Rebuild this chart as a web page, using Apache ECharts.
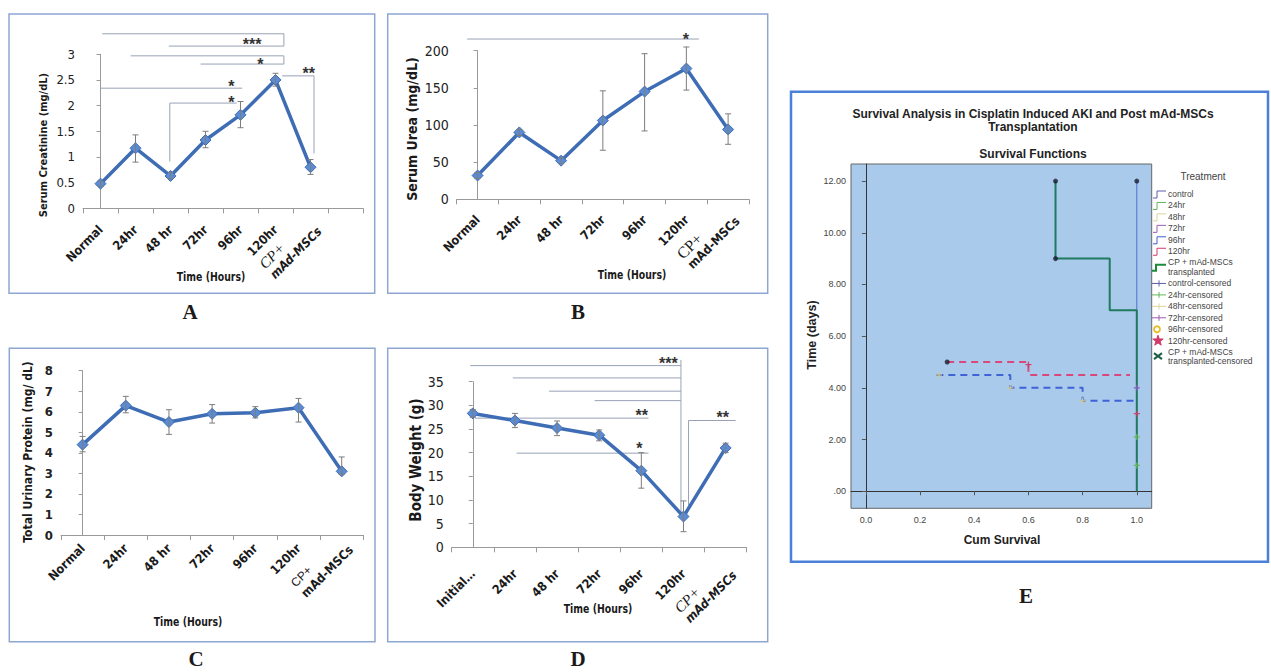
<!DOCTYPE html>
<html><head><meta charset="utf-8">
<script src="https://cdn.jsdelivr.net/npm/echarts@6.0.0/dist/echarts.min.js"></script>
<style>html,body{margin:0;padding:0;background:#fff}#c{width:1271px;height:672px}</style>
</head><body><div id="c"></div>
<script>
// ================= DATA =================
// Panel A – serum creatinine
const catsA = ['Normal','24hr','48 hr','72hr','96hr','120hr','CP+\nmAd-MSCs',''];
const yTicksA = [0,0.5,1,1.5,2,2.5,3];
const creatinine     = [0.48,1.17,0.63,1.33,1.82,2.50,0.80];
const creatinineLow  = [0.43,0.90,0.58,1.18,1.57,2.38,0.66];
const creatinineHigh = [0.53,1.43,0.70,1.50,2.08,2.63,0.95];
const bracketsA = [
  [[0.05,3.40],[5.24,3.40],[5.24,3.16],[1.95,3.16]],
  [[0.86,2.97],[5.24,2.97],[5.24,2.81],[2.86,2.81]],
  [[0.00,2.34],[4.05,2.34]],
  [[1.98,0.91],[1.98,2.05],[3.89,2.05]],
  [[5.19,2.58],[6.10,2.58],[6.10,1.07]]
];
const starsA = [[4.33,3.26,'***'],[4.57,2.87,'*'],[3.74,2.45,'*'],[3.74,2.13,'*'],[5.95,2.70,'**']];

// Panel B – serum urea
const catsB = ['Normal','24hr','48 hr','72hr','96hr','120hr','CP+\nmAd-MSCs'];
const yTicksB = [0,50,100,150,200];
const urea     = [32,90,52,106,145,176,94];
const ureaLow  = [28,86,48,66,92,147,74];
const ureaHigh = [36,94,56,146,196,205,115];
const bracketsB = [[[-0.25,215.7],[5.30,215.7]]];
const starsB = [[4.99,221,'*']];

// Panel C – total urinary protein
const catsC = ['Normal','24hr','48 hr','72hr','96hr','120hr','CP+\nmAd-MSCs'];
const yTicksC = [0,1,2,3,4,5,6,7,8];
const protein     = [4.40,6.30,5.50,5.90,5.95,6.20,3.10];
const proteinLow  = [4.05,5.95,4.90,5.45,5.70,5.50,2.95];
const proteinHigh = [4.80,6.75,6.10,6.35,6.25,6.65,3.80];
const bracketsC = [];
const starsC = [];

// Panel D – body weight
const catsD = ['Initial…','24hr','48 hr','72hr','96hr','120hr','CP+\nmAd-MSCs'];
const yTicksD = [0,5,10,15,20,25,30,35];
const weight     = [28.3,26.8,25.2,23.7,16.2,6.5,21.0];
const weightLow  = [27.5,25.3,23.6,22.5,12.5,3.3,20.0];
const weightHigh = [29.1,28.3,26.7,24.8,20.0,9.8,22.0];
const bracketsD = [
  [[-0.06,38.4],[4.94,38.4]],
  [[0.95,35.8],[4.94,35.8]],
  [[1.81,33.0],[4.94,33.0]],
  [[2.89,31.0],[4.94,31.0]],
  [[4.94,39.6],[4.94,7.5]],
  [[0.05,27.3],[4.17,27.3]],
  [[1.04,19.9],[4.17,19.9]],
  [[5.12,8.9],[5.12,26.8],[6.24,26.8]]
];
const starsD = [[4.64,39.6,'***'],[4.01,28.7,'**'],[3.95,21.8,'*'],[5.93,28.3,'**']];

// Panel E – survival
const survTicksX = [0,0.2,0.4,0.6,0.8,1.0];
const survTicksY = [0,2,4,6,8,10,12];
const survControl = [[1.0,12],[1.0,0]];
const survCP      = [[0.7,12],[0.7,9],[0.9,9],[0.9,7],[1.0,7],[1.0,0]];
const surv120     = [[0.3,5],[0.6,5],[0.6,4.5],[0.975,4.5]];
const surv96      = [[0.26,4.5],[0.533,4.5],[0.533,4.0],[0.8,4.0],[0.8,3.5],[1.0,3.5]];
const survEvents  = [[0.3,5],[0.7,12],[0.7,9],[1.0,12]];
const survCensor  = [[1.0,4.0],[1.0,3.0],[1.0,1.0],[1.0,2.1],[0.27,4.5],[0.533,4.0],[0.8,3.5],[0.6,4.9]];
const survLegend = ['control','24hr','48hr','72hr','96hr','120hr','CP + mAd-MSCs\ntransplanted',
  'control-censored','24hr-censored','48hr-censored','72hr-censored','96hr-censored','120hr-censored',
  'CP + mAd-MSCs\ntransplanted-censored'];

// ================= STYLE / LAYOUT =================
const NARROW = "'Liberation Sans Narrow','DejaVu Sans Condensed','Liberation Sans',Arial,sans-serif";
const SANS = "'Liberation Sans',Arial,sans-serif";
const SERIF = "'Liberation Serif','Times New Roman',serif";
const censorColors = ['#8A5CC0','#D23A6A','#62B858','#62B858','#CFC68A','#CFC68A','#CFC68A','#D23A6A'];
const legendColors = ['#5B5EA6','#62B858','#DCD59A','#9B5CB4','#3F5ECF','#D23A6A','#1E8A3C',
  '#5B5EA6','#62B858','#DCD59A','#9B5CB4','#E6BE2A','#D23A6A','#1F5F4A'];
const legendKinds = ['step','step','step','step','step','step','stepBig','plus','plus','plus','plus','circle','star','x'];

const panels = [
  {cats:catsA, vals:creatinine, lo:creatinineLow, hi:creatinineHigh, br:bracketsA, st:starsA, ticks:yTicksA,
   grid:{left:83, top:54.3, width:280, height:154}, yFont:{fontSize:13, fontWeight:'normal'}, margin:19, cpW:62,
   cp:{fontFamily:SERIF, fontStyle:'italic', fontSize:15, fontWeight:'normal'}, mItalic:'italic'},
  {cats:catsB, vals:urea, lo:ureaLow, hi:ureaHigh, br:bracketsB, st:starsB, ticks:yTicksB,
   grid:{left:456.7, top:50.7, width:292.3, height:148.6}, yFont:{fontSize:14, fontWeight:'normal'}, margin:18, cpW:62,
   cp:{fontFamily:SERIF, fontStyle:'normal', fontSize:16, fontWeight:'normal'}, mItalic:'normal'},
  {cats:catsC, vals:protein, lo:proteinLow, hi:proteinHigh, br:bracketsC, st:starsC, ticks:yTicksC,
   grid:{left:61, top:370.7, width:302.3, height:164.3}, yFont:{fontSize:13, fontWeight:'bold'}, margin:11, cpW:62,
   cp:{fontFamily:SANS, fontStyle:'normal', fontSize:12, fontWeight:'normal'}, mItalic:'normal'},
  {cats:catsD, vals:weight, lo:weightLow, hi:weightHigh, br:bracketsD, st:starsD, ticks:yTicksD,
   grid:{left:451.7, top:381.7, width:295, height:165.6}, yFont:{fontSize:14, fontWeight:'normal'}, margin:24, cpW:62,
   cp:{fontFamily:SERIF, fontStyle:'italic', fontSize:15, fontWeight:'normal'}, mItalic:'italic'}
];

const option = {animation:false, backgroundColor:'#fff', grid:[], xAxis:[], yAxis:[], series:[], graphic:[]};
const NP = panels.length;

panels.forEach((p,i)=>{
  option.grid.push(p.grid);
  option.xAxis.push({
    type:'category', gridIndex:i, data:p.cats, boundaryGap:true,
    axisLine:{lineStyle:{color:'#9a9a9a', width:1}},
    axisTick:{show:true, length:5, lineStyle:{color:'#9a9a9a'}},
    axisLabel:{interval:0, rotate:45, margin:p.margin, color:'#1a1a1a', fontFamily:NARROW, fontWeight:'bold', fontSize:12.5,
      formatter:v=>{const s=v.split('\n'); return s.length>1 ? '{cp|'+s[0]+'}\n{m|'+s[1]+'}' : v;},
      rich:{cp:Object.assign({color:'#1a1a1a', align:'left', width:p.cpW, lineHeight:15}, p.cp),
            m:{color:'#1a1a1a', fontFamily:NARROW, fontWeight:'bold', fontStyle:p.mItalic, fontSize:12.5, align:'left', width:p.cpW, lineHeight:14}}}
  });
});
panels.forEach((p,i)=>{
  option.xAxis.push({type:'value', gridIndex:i, min:-0.5, max:p.cats.length-0.5, show:false});
});
panels.forEach((p,i)=>{
  const t = p.ticks;
  option.yAxis.push({
    type:'value', gridIndex:i, min:t[0], max:t[t.length-1], interval:t[1]-t[0],
    axisLine:{show:true, lineStyle:{color:'#9a9a9a'}},
    axisTick:{show:true, length:4, lineStyle:{color:'#9a9a9a'}},
    splitLine:{show:false},
    axisLabel:Object.assign({color:'#222', fontFamily:NARROW, margin:8}, p.yFont)
  });
});

panels.forEach((p,i)=>{
  const xa = NP+i, ya = i;
  option.series.push({
    type:'custom', xAxisIndex:xa, yAxisIndex:ya, z:2, silent:true,
    data:p.br.map(b=>[b[0][0], b[0][1]]),
    renderItem:(params, api)=>{
      const pts = p.br[params.dataIndex].map(q=>api.coord(q));
      return {type:'polyline', shape:{points:pts}, style:{stroke:'#98a2b6', lineWidth:1, fill:null}};
    }
  });
  option.series.push({
    type:'line', xAxisIndex:xa, yAxisIndex:ya, z:3,
    data:p.vals.map((v,k)=>[k,v]),
    symbol:'diamond', symbolSize:11,
    lineStyle:{color:'#3E6DB5', width:3.5},
    itemStyle:{color:'#5B8BD2', borderColor:'#3E6DB5', borderWidth:1}
  });
  option.series.push({
    type:'custom', xAxisIndex:xa, yAxisIndex:ya, z:4, silent:true,
    data:p.vals.map((v,k)=>[k, p.lo[k], p.hi[k]]),
    encode:{x:0, y:[1,2]},
    renderItem:(params, api)=>{
      const x = api.value(0);
      const a = api.coord([x, api.value(1)]), b = api.coord([x, api.value(2)]);
      const w = 3, st = {stroke:'#7d7d7d', lineWidth:1};
      return {type:'group', children:[
        {type:'line', shape:{x1:a[0],y1:a[1],x2:b[0],y2:b[1]}, style:st},
        {type:'line', shape:{x1:a[0]-w,y1:a[1],x2:a[0]+w,y2:a[1]}, style:st},
        {type:'line', shape:{x1:b[0]-w,y1:b[1],x2:b[0]+w,y2:b[1]}, style:st}
      ]};
    }
  });
  option.series.push({
    type:'custom', xAxisIndex:xa, yAxisIndex:ya, z:5, silent:true,
    data:p.st.map(s=>[s[0], s[1]]),
    renderItem:(params, api)=>{
      const s = p.st[params.dataIndex];
      const c = api.coord([s[0], s[1]]);
      return {type:'text', x:c[0], y:c[1]+4, style:{text:s[2], fill:'#333', font:'bold 16px '+SANS, textAlign:'center', textVerticalAlign:'middle'}};
    }
  });
});

// ---- Panel E ----
const gE = option.grid.length;
option.grid.push({left:851, top:164, width:300.7, height:344.3, show:true, backgroundColor:'#A9CAEB', borderColor:'#666', borderWidth:1});
const xE = option.xAxis.length;
option.xAxis.push({type:'value', gridIndex:gE, min:-0.055, max:1.055,
  axisLine:{show:true, lineStyle:{color:'#333'}}, splitLine:{show:false},
  axisTick:{show:true, length:4, customValues:survTicksX, lineStyle:{color:'#555'}},
  axisLabel:{customValues:survTicksX, formatter:v=>v.toFixed(1), fontSize:9, color:'#444', fontFamily:SANS, margin:7}});
const yE = option.yAxis.length;
option.yAxis.push({type:'value', gridIndex:gE, min:-0.66, max:12.66,
  axisLine:{show:true, lineStyle:{color:'#333'}}, splitLine:{show:false},
  axisTick:{show:true, length:4, customValues:survTicksY, lineStyle:{color:'#555'}},
  axisLabel:{customValues:survTicksY, formatter:v=>v===0?'.00':v.toFixed(2), fontSize:9, color:'#444', fontFamily:SANS, margin:5}});

function survLine(data, color, width, type, z){
  return {type:'line', xAxisIndex:xE, yAxisIndex:yE, data:data, showSymbol:false, symbol:'none', z:z,
    lineStyle:{color:color, width:width, type:type}};
}
option.series.push(survLine(survControl, '#4F6FD0', 1, 'solid', 3));
option.series.push(survLine(surv96, '#3F62D6', 2, [7,5], 3));
option.series.push(survLine(surv120, '#D8487A', 2, [7,5], 3));
option.series.push(survLine(survCP, '#1F7A5E', 2, 'solid', 4));
option.series.push({type:'scatter', xAxisIndex:xE, yAxisIndex:yE, data:survEvents, symbol:'circle', symbolSize:5, z:6,
  itemStyle:{color:'#1c1c2c'}});
option.series.push({type:'custom', xAxisIndex:xE, yAxisIndex:yE, z:7, silent:true,
  data:survCensor,
  renderItem:(params, api)=>{
    const c = api.coord([api.value(0), api.value(1)]);
    const st = {stroke:censorColors[params.dataIndex], lineWidth:1.2};
    return {type:'group', children:[
      {type:'line', shape:{x1:c[0]-3,y1:c[1],x2:c[0]+3,y2:c[1]}, style:st},
      {type:'line', shape:{x1:c[0],y1:c[1]-3,x2:c[0],y2:c[1]+3}, style:st}
    ]};
  }});

// ---- graphics: frames, titles, labels, legend ----
const G = option.graphic;
function frame(x1,y1,x2,y2,color,w){ G.push({type:'rect', z:0, silent:true, shape:{x:x1,y:y1,width:x2-x1,height:y2-y1}, style:{fill:'none', stroke:color, lineWidth:w}}); }
frame(9,14,374.7,293.3,'#8EA6D2',1.5);
frame(387.7,14,767.7,293.3,'#8EA6D2',1.5);
frame(9.3,348.3,375,641.7,'#8EA6D2',1.5);
frame(387.7,348.3,767.7,641.7,'#8EA6D2',1.5);
frame(791,91.7,1268,561.7,'#4A80D8',2.5);

function txt(s,x,y,font,opts){
  const o = Object.assign({align:'center', va:'middle', rot:0, fill:'#1a1a1a', sx:1}, opts||{});
  G.push({type:'text', x:x, y:y, rotation:o.rot, scaleX:o.sx, z:10, silent:true,
    style:{text:s, font:font, fill:o.fill, textAlign:o.align, textVerticalAlign:o.va, lineHeight:o.lh}});
}
const R90 = Math.PI/2;
// axis titles
txt('Serum Creatinine (mg/dL)', 43, 145, 'bold 11px '+NARROW, {rot:R90});
txt('Time (Hours)', 211, 277, 'bold 13px '+NARROW, {sx:0.8});
txt('Serum Urea (mg/dL)', 412, 129, 'bold 14px '+NARROW, {rot:R90});
txt('Time (Hours)', 632, 275, 'bold 13px '+NARROW, {sx:0.8});
txt('Total Urinary Protein (mg/ dL)', 28, 452, 'bold 12px '+NARROW, {rot:R90});
txt('Time (Hours)', 188, 622, 'bold 13px '+NARROW, {sx:0.8});
txt('Body Weight (g)', 416, 460, 'bold 15px '+NARROW, {rot:R90});
txt('Time (Hours)', 598, 609, 'bold 13px '+NARROW, {sx:0.8});
// panel letters
const PL = 'bold 21px '+SERIF;
txt('A', 190, 312, PL); txt('B', 578, 312, PL); txt('C', 196, 659, PL); txt('D', 578, 659, PL); txt('E', 1026, 596, PL);
// panel E texts
txt('Survival Analysis in Cisplatin Induced AKI and Post mAd-MSCs', 1033, 114, 'bold 12px '+SANS, {fill:'#222'});
txt('Transplantation', 1033, 127, 'bold 12px '+SANS, {fill:'#222'});
txt('Survival Functions', 1033, 154, 'bold 12px '+SANS, {fill:'#222'});
txt('Time (days)', 812, 335, 'bold 12.5px '+SANS, {rot:R90, fill:'#222'});
txt('Cum Survival', 1002, 540, 'bold 12px '+SANS, {fill:'#222'});
txt('Treatment', 1203, 176, '10px '+SANS, {fill:'#444'});
// legend
survLegend.forEach((name,k)=>{
  const y = 194 + 11.45*k + (k>6 ? 9.3 : 0);
  const col = legendColors[k], kind = legendKinds[k];
  const two = name.indexOf('\n')>=0;
  txt(name, 1168, two ? y-5 : y, '8.5px '+SANS, {align:'left', va: two?'top':'middle', fill:'#444', lh:9.5});
  const cy = two ? y+4 : y;
  if (kind==='step'){
    G.push({type:'polyline', z:10, silent:true, shape:{points:[[1153,cy+4],[1157,cy+4],[1157,cy-3],[1166,cy-3]]}, style:{stroke:col, lineWidth:1, fill:null}});
  } else if (kind==='stepBig'){
    G.push({type:'polyline', z:10, silent:true, shape:{points:[[1152,cy+4],[1156,cy+4],[1156,cy-2],[1166,cy-2]]}, style:{stroke:col, lineWidth:2, fill:null}});
  } else if (kind==='plus'){
    G.push({type:'line', z:10, silent:true, shape:{x1:1152,y1:cy,x2:1166,y2:cy}, style:{stroke:col, lineWidth:1}});
    G.push({type:'line', z:10, silent:true, shape:{x1:1159,y1:cy-3,x2:1159,y2:cy+3}, style:{stroke:col, lineWidth:1}});
  } else if (kind==='circle'){
    G.push({type:'circle', z:10, silent:true, shape:{cx:1157,cy:cy,r:3}, style:{stroke:col, lineWidth:1.8, fill:'none'}});
  } else if (kind==='star'){
    const pts=[]; for(let j=0;j<10;j++){const r=j%2?2.2:5.5, a=-Math.PI/2+j*Math.PI/5; pts.push([1158+r*Math.cos(a), cy+r*Math.sin(a)]);}
    G.push({type:'polygon', z:10, silent:true, shape:{points:pts}, style:{fill:col, stroke:col}});
  } else if (kind==='x'){
    G.push({type:'line', z:10, silent:true, shape:{x1:1154,y1:cy-3,x2:1162,y2:cy+3}, style:{stroke:col, lineWidth:2}});
    G.push({type:'line', z:10, silent:true, shape:{x1:1154,y1:cy+3,x2:1162,y2:cy-3}, style:{stroke:col, lineWidth:2}});
  }
});

const chart = echarts.init(document.getElementById('c'), null, {renderer:'svg', width:1271, height:672});
chart.setOption(option);
</script></body></html>
